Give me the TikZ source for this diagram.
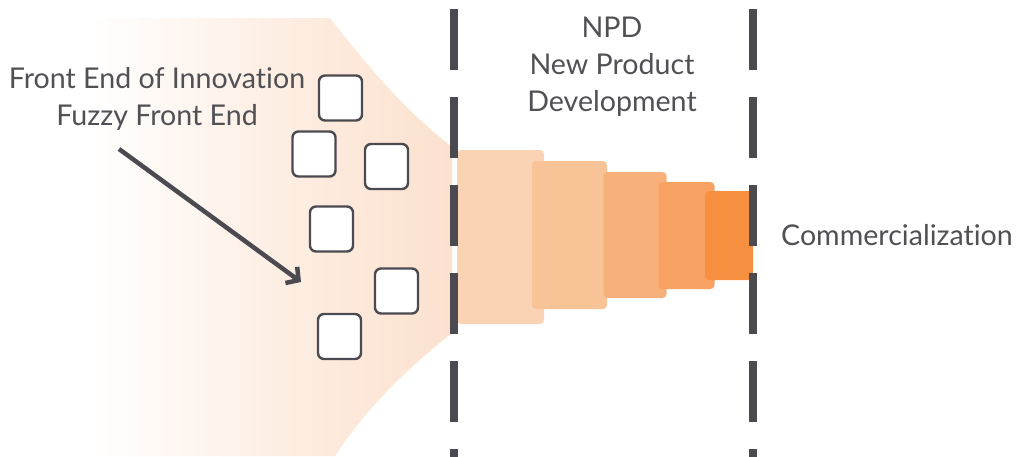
\documentclass[tikz,border=0pt]{standalone}
\usepackage{fontspec}
\setmainfont{Lato}[Ligatures=NoCommon]
\usetikzlibrary{arrows.meta}
\definecolor{ink}{HTML}{4A4A50}
\definecolor{textgray}{HTML}{505055}
\definecolor{peach}{HTML}{FCE1CE}
\definecolor{stageA}{HTML}{FAD3B5}
\definecolor{stageB}{HTML}{F9C398}
\definecolor{stageC}{HTML}{F8B07B}
\definecolor{stageD}{HTML}{F7A162}
\definecolor{stageE}{HTML}{F68F3F}
\tikzset{
  caption/.style={text=textgray, inner sep=0pt, font=\fontsize{28.6}{37}\selectfont},
  idea/.style={draw=ink, line width=2.4pt, fill=white, rounded corners=6pt,
    minimum width=43pt, minimum height=45pt, inner sep=0pt},
  stagebox/.style={rounded corners=4pt, inner sep=0pt},
  gate/.style={draw=ink, line width=7.5pt, dash pattern=on 61pt off 27pt},
  pointer/.style={draw=ink, line width=4.5pt, -{Straight Barb[length=9pt,width=20pt]}}
}
\begin{document}
\begin{tikzpicture}[x=1pt,y=-1pt]
\useasboundingbox (0,0) rectangle (1018,456);

% fuzzy front end funnel
\shade[left color=white, right color=peach, middle color=peach!55]
  (90,18) -- (330,18) .. controls (375,75) and (405,110) .. (452,147)
  -- (452,333) .. controls (405,370) and (365,410) .. (335,456)
  -- (90,456) -- cycle;

% development stages, shrinking towards commercialization
\node[stagebox, fill=stageA, minimum width=87pt, minimum height=174pt] (s1) at (500.5,237) {};
\node[stagebox, fill=stageB, minimum width=75pt, minimum height=148pt] (s2) at (569.5,235) {};
\node[stagebox, fill=stageC, minimum width=63pt, minimum height=126pt] (s3) at (635,235) {};
\node[stagebox, fill=stageD, minimum width=56pt, minimum height=107pt] (s4) at (686.5,235.5) {};
\node[stagebox, fill=stageE, minimum width=48pt, minimum height=89pt] (s5) at (729,235.5) {};

% phase gates
\coordinate (g1top) at (454,9);
\coordinate (g1bot) at (454,462);
\coordinate (g2top) at (753,9);
\coordinate (g2bot) at (753,462);
\draw[gate] (g1top) -- (g1bot);
\draw[gate] (g2top) -- (g2bot);

% ideas
\node[idea] (i1) at (340.5,98) {};
\node[idea] (i2) at (314,154) {};
\node[idea] (i3) at (386.5,166.5) {};
\node[idea] (i4) at (331.5,229) {};
\node[idea] (i5) at (396.5,291) {};
\node[idea] (i6) at (339.5,336.5) {};

% labels
\node[caption, align=center, anchor=north] (ffe) at (157,67)
  {Front End of Innovation\\Fuzzy Front End};
\node[caption, align=center, anchor=north] (npd) at (612,17)
  {NPD\\New Product\\Development};
\node[caption, anchor=base west] (com) at (781,245) {Commercialization};

% pointer into the funnel
\coordinate (p0) at (119,149);
\coordinate (p1) at (301,282);
\draw[pointer] (p0) -- (p1);
\end{tikzpicture}
\end{document}
